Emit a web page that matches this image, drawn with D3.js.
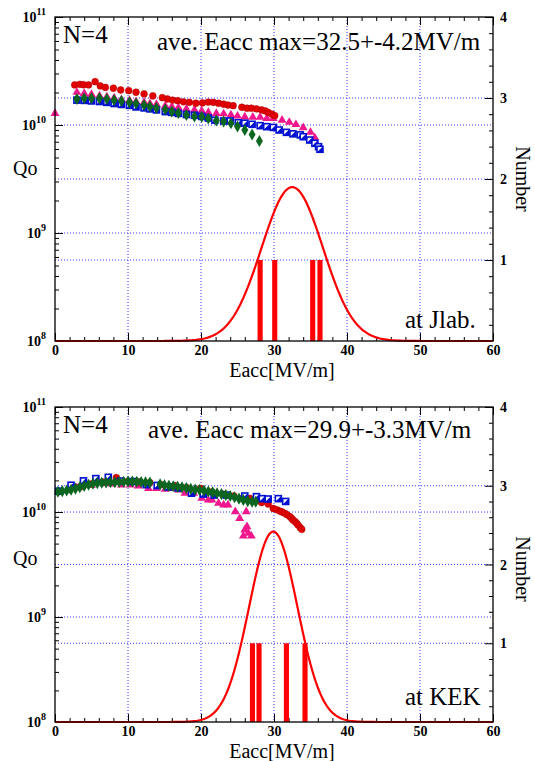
<!DOCTYPE html>
<html>
<head>
<meta charset="utf-8">
<script src="https://cdn.jsdelivr.net/npm/d3@7"></script>
<style>
  body { margin: 0; background: #fff; }
  svg { display: block; }
  text { font-family: "Liberation Serif", "Times New Roman", serif; }
</style>
</head>
<body>
<svg id="chart" width="535" height="761"></svg>
<script>
// [Eacc MV/m, Qo in units of 1e10]
let jlabRed = [[2.7,2.35],[3.4,2.38],[3.9,2.36],[4.6,2.35],[5.5,2.52],[6.2,2.30],[6.9,2.23],[8.0,2.19],[9.0,2.11],[10.1,2.08],[11.1,2.01],[12.2,1.94],[13.4,1.86],[14.7,1.79],[15.4,1.74],[16.1,1.70],[16.8,1.68],[17.6,1.64],[18.4,1.62],[19.3,1.59],[20.2,1.60],[21.0,1.63],[21.7,1.62],[22.4,1.59],[23.1,1.56],[23.7,1.53],[24.4,1.51],[25.6,1.46],[26.3,1.43],[26.9,1.43],[27.6,1.41],[28.3,1.38],[28.8,1.35],[29.2,1.31],[29.7,1.26],[30.1,1.22]];
let jlabPink = [[0,1.28],[3.0,2.01],[4.0,1.96],[5.0,1.92],[6.1,1.86],[7.1,1.82],[8.1,1.78],[9.1,1.72],[10.2,1.69],[11.1,1.65],[12.2,1.62],[13.0,1.58],[13.9,1.55],[15.1,1.50],[16.0,1.48],[16.9,1.45],[18.0,1.41],[19.1,1.38],[20.1,1.35],[21.0,1.31],[22.1,1.28],[23.1,1.27],[24.1,1.24],[25.0,1.21],[26.0,1.19],[27.1,1.18],[28.1,1.18],[29.0,1.15],[29.9,1.15],[31.1,1.11],[32.1,1.06],[33.0,1.01],[34.0,0.944],[35.0,0.856],[35.6,0.762]];
let jlabBlue = [[3.0,1.70],[4.0,1.69],[5.0,1.67],[6.1,1.65],[7.1,1.62],[8.1,1.58],[9.1,1.55],[10.2,1.52],[11.1,1.47],[12.2,1.44],[13.0,1.41],[13.9,1.38],[15.1,1.33],[16.0,1.31],[16.9,1.28],[18.0,1.25],[19.1,1.23],[20.1,1.20],[21.0,1.16],[21.9,1.11],[23.1,1.09],[24.0,1.09],[25.1,1.05],[26.0,1.04],[27.0,1.015],[28.1,0.986],[29.0,0.965],[29.9,0.95],[30.7,0.899],[31.7,0.855],[32.6,0.828],[33.6,0.81],[34.0,0.779],[34.9,0.726],[35.6,0.677],[36.1,0.630],[36.3,0.596]];
let jlabGreen = [[3.0,1.74],[4.0,1.77],[5.0,1.77],[6.1,1.77],[7.1,1.74],[8.1,1.70],[9.1,1.67],[10.2,1.62],[11.1,1.58],[12.2,1.53],[13.0,1.48],[13.9,1.44],[15.1,1.39],[16.0,1.33],[16.9,1.29],[18.0,1.24],[19.1,1.20],[20.1,1.19],[21.0,1.15],[22.1,1.10],[23.1,1.08],[24.1,1.04],[25.0,0.97],[26.0,0.899],[27.0,0.817],[28.0,0.711]];

let kekRed = [[0.6,1.57],[2.0,1.64],[3.5,1.74],[5.0,1.85],[6.5,1.93],[8.4,2.12],[10.0,1.96],[11.5,1.94],[13.0,1.90],[14.5,1.82],[16.4,1.78],[18.0,1.71],[19.9,1.68],[21.5,1.55],[23.0,1.48],[24.5,1.42],[25.8,1.37],[26.7,1.35],[27.6,1.30],[28.3,1.23],[29.2,1.19],[29.9,1.08],[30.4,1.05],[30.8,1.02],[31.1,1.0],[31.5,0.972],[31.8,0.94],[32.2,0.903],[32.4,0.87],[32.6,0.839],[32.9,0.81],[33.1,0.78],[33.3,0.75],[33.6,0.708],[33.8,0.684]];
let kekPink = [[3.0,1.70],[5.0,1.80],[6.9,1.87],[7.8,1.85],[9.1,1.81],[10.3,1.81],[11.4,1.77],[12.8,1.68],[13.9,1.68],[15.1,1.645],[16.0,1.68],[16.9,1.62],[17.8,1.51],[19.0,1.51],[20.1,1.35],[21.0,1.30],[21.5,1.30],[22.4,1.21],[23.1,1.17],[23.7,1.17],[24.7,1.007],[25.3,0.87],[26.2,1.007],[26.3,0.724],[26.0,0.675],[26.5,0.63],[25.8,0.59],[26.9,0.59]];
let kekBlue = [[0.5,1.58],[2.2,1.80],[3.9,1.98],[5.6,2.08],[7.3,2.14],[9.0,1.97],[10.7,1.95],[12.5,1.82],[14.0,1.79],[15.5,1.73],[16.9,1.69],[18.7,1.51],[20.3,1.48],[21.8,1.45],[23.5,1.45],[26.0,1.42],[27.6,1.40],[28.4,1.34],[29.2,1.33],[30.6,1.34],[31.6,1.26]];
let kekGreen = [[0.4,1.56],[1.0,1.58],[1.6,1.60],[2.2,1.63],[2.8,1.67],[3.4,1.72],[4.0,1.77],[4.6,1.82],[5.2,1.86],[5.8,1.88],[6.4,1.90],[7.0,1.91],[7.6,1.92],[8.2,1.92],[8.8,1.93],[9.4,1.94],[10.0,1.95],[10.6,1.95],[11.2,1.94],[11.8,1.93],[12.4,1.92],[13.0,1.91],[14.4,1.84],[15.0,1.80],[15.6,1.78],[16.2,1.76],[16.8,1.74],[17.4,1.72],[18.0,1.69],[18.6,1.66],[19.2,1.64],[19.8,1.62],[20.4,1.60],[21.0,1.57],[21.6,1.54],[22.2,1.51],[22.8,1.48],[23.4,1.45],[24.0,1.42],[24.6,1.38],[25.2,1.34],[25.8,1.30],[26.4,1.27],[27.0,1.25],[27.5,1.25]];

// max Eacc of each cavity (histogram, one count each)
let jlabBars = [28.1, 30.1, 35.3, 36.3];
let kekBars = [27.05, 27.95, 31.7, 34.25];
// gaussian fit quoted in the titles
let jlabFit = {mean: 32.5, sd: 4.2};
let kekFit = {mean: 29.9, sd: 3.3};
let nCav = 4, binWidth = 5;

let xTicks = [0, 10, 20, 30, 40, 50, 60];
let numberTicks = [1, 2, 3, 4];
let qExponents = [8, 9, 10, 11];

let svg = d3.select("#chart");
let left = 55, right = 493;

let panels = [
    {top: 17, bottom: 341, site: "at Jlab.", siteY: 328, titleX: 157, titleY: 50,
     title: "ave. Eacc max=32.5+-4.2MV/m", fit: jlabFit, bars: jlabBars,
     series: {red: jlabRed, pink: jlabPink, blue: jlabBlue, green: jlabGreen}},
    {top: 407, bottom: 722, site: "at KEK", siteY: 705, titleX: 148, titleY: 438,
     title: "ave. Eacc max=29.9+-3.3MV/m", fit: kekFit, bars: kekBars,
     series: {red: kekRed, pink: kekPink, blue: kekBlue, green: kekGreen}}
];

function drawPanel(p) {
    let g = svg.append("g");
    let x = d3.scaleLinear().domain([0, 60]).range([left, right]);
    let y = d3.scaleLog().domain([1e8, 1e11]).range([p.bottom, p.top]);
    let yn = d3.scaleLinear().domain([0, 4]).range([p.bottom, p.top]);

    // dotted grid
    let grid = g.append("g").attr("stroke", "#3a3aff").attr("stroke-width", 1)
                .attr("stroke-dasharray", "1,2");
    [10, 20, 30, 40, 50].forEach(v =>
        grid.append("line").attr("x1", x(v)).attr("x2", x(v)).attr("y1", p.top).attr("y2", p.bottom));
    [1e9, 1e10].forEach(v =>
        grid.append("line").attr("x1", left).attr("x2", right).attr("y1", y(v)).attr("y2", y(v)));
    [1, 2, 3].forEach(v =>
        grid.append("line").attr("x1", left).attr("x2", right).attr("y1", yn(v)).attr("y2", yn(v)));

    // ticks (inside)
    let noDomain = a => a.call(s => s.select(".domain").remove());
    let minorX = d3.range(0, 61, 2).filter(v => v % 10);
    let minorQ = [];
    qExponents.slice(0, -1).forEach(e => d3.range(2, 10).forEach(m => minorQ.push(m * Math.pow(10, e))));
    let minorN = d3.range(0, 4.01, 0.2).filter(v => Math.abs(v - Math.round(v)) > 0.01);

    g.append("g").attr("transform", `translate(0,${p.bottom})`)
     .call(d3.axisBottom(x).tickValues(xTicks).tickSize(-8).tickPadding(4).tickFormat(d3.format("d")))
     .call(noDomain)
     .call(s => s.selectAll("text").attr("font-size", 14).attr("font-weight", "bold")
                  .attr("fill", "#000").attr("font-family", "Liberation Serif"));
    g.append("g").attr("transform", `translate(0,${p.bottom})`)
     .call(d3.axisBottom(x).tickValues(minorX).tickSize(-4).tickFormat("")).call(noDomain);
    g.append("g").attr("transform", `translate(0,${p.top})`)
     .call(d3.axisTop(x).tickValues(xTicks).tickSize(-8).tickFormat("")).call(noDomain);
    g.append("g").attr("transform", `translate(0,${p.top})`)
     .call(d3.axisTop(x).tickValues(minorX).tickSize(-4).tickFormat("")).call(noDomain);
    g.append("g").attr("transform", `translate(${left},0)`)
     .call(d3.axisLeft(y).tickValues(qExponents.map(e => Math.pow(10, e))).tickSize(-8).tickFormat("")).call(noDomain);
    g.append("g").attr("transform", `translate(${left},0)`)
     .call(d3.axisLeft(y).tickValues(minorQ).tickSize(-4).tickFormat("")).call(noDomain);
    g.append("g").attr("transform", `translate(${right},0)`)
     .call(d3.axisRight(yn).tickValues(numberTicks).tickSize(-8).tickFormat("")).call(noDomain);
    g.append("g").attr("transform", `translate(${right},0)`)
     .call(d3.axisRight(yn).tickValues(minorN).tickSize(-4).tickFormat("")).call(noDomain);

    // left labels 10^n
    qExponents.forEach(e => {
        let t = g.append("text").attr("x", 46).attr("y", y(Math.pow(10, e)) + 5)
                 .attr("text-anchor", "end").attr("font-weight", "bold").attr("font-size", 14);
        t.append("tspan").text("10");
        t.append("tspan").attr("dy", -7).attr("font-size", 10).text(e);
    });
    // right labels
    numberTicks.forEach(v =>
        g.append("text").attr("x", 500).attr("y", yn(v) + 5).attr("font-weight", "bold")
         .attr("font-size", 14).text(v));

    // histogram bars
    g.append("g").selectAll("rect").data(p.bars).join("rect")
     .attr("x", d => x(d - 0.35)).attr("width", d => x(d + 0.35) - x(d - 0.35))
     .attr("y", yn(1)).attr("height", yn(0) - yn(1)).attr("fill", "#ff0000");

    // gaussian fit of the histogram
    let amp = nCav * binWidth / (p.fit.sd * Math.sqrt(2 * Math.PI));
    let fitLine = d3.line()
        .x(d => x(d))
        .y(d => yn(amp * Math.exp(-Math.pow(d - p.fit.mean, 2) / (2 * p.fit.sd * p.fit.sd))));
    g.append("path").datum(d3.range(0, 60.01, 0.2)).attr("d", fitLine)
     .attr("fill", "none").attr("stroke", "#ff0000").attr("stroke-width", 2.2);

    // Qo-E points
    let px = d => x(d[0]), py = d => y(d[1] * 1e10);
    let s = p.series;
    g.append("g").selectAll("path").data(s.pink).join("path")
     .attr("transform", d => `translate(${px(d)},${py(d)})`)
     .attr("d", d3.symbol(d3.symbolTriangle, 34)).attr("fill", "#f0168c");
    g.append("g").selectAll("circle").data(s.red).join("circle")
     .attr("cx", px).attr("cy", py).attr("r", 3.4).attr("fill", "#e00000")
     .attr("stroke", "#b00000").attr("stroke-width", 0.5);
    let blue = g.append("g").selectAll("g").data(s.blue).join("g")
     .attr("transform", d => `translate(${px(d)},${py(d)})`);
    blue.append("rect").attr("x", -3).attr("y", -3).attr("width", 6).attr("height", 6)
     .attr("fill", "#fff").attr("stroke", "#0010d0").attr("stroke-width", 1.6);
    blue.append("path").attr("d", "M-3,3L3,-3L3,3Z").attr("fill", "#0010d0");
    g.append("g").selectAll("path").data(s.green).join("path")
     .attr("transform", d => `translate(${px(d)},${py(d)})`)
     .attr("d", d3.symbol(d3.symbolDiamond, 42)).attr("fill", "#0c6620");

    // frame
    g.append("rect").attr("x", left).attr("y", p.top).attr("width", right - left)
     .attr("height", p.bottom - p.top).attr("fill", "none").attr("stroke", "#000").attr("stroke-width", 1.3);

    // texts
    g.append("text").attr("x", 63).attr("y", p.top + 26).attr("font-size", 25).text("N=4");
    g.append("text").attr("x", p.titleX).attr("y", p.titleY).attr("font-size", 25).text(p.title);
    g.append("text").attr("x", 405).attr("y", p.siteY).attr("font-size", 25).text(p.site);
    g.append("text").attr("x", 13).attr("y", p.top + 158).attr("font-size", 20).text("Qo");
    g.append("text").attr("transform", `translate(516,${p.top + 162}) rotate(90)`)
     .attr("text-anchor", "middle").attr("font-size", 20).text("Number");
    g.append("text").attr("x", 282).attr("y", p.bottom + 36).attr("text-anchor", "middle")
     .attr("font-size", 20).text("Eacc[MV/m]");
}

panels.forEach(drawPanel);
</script>
</body>
</html>
